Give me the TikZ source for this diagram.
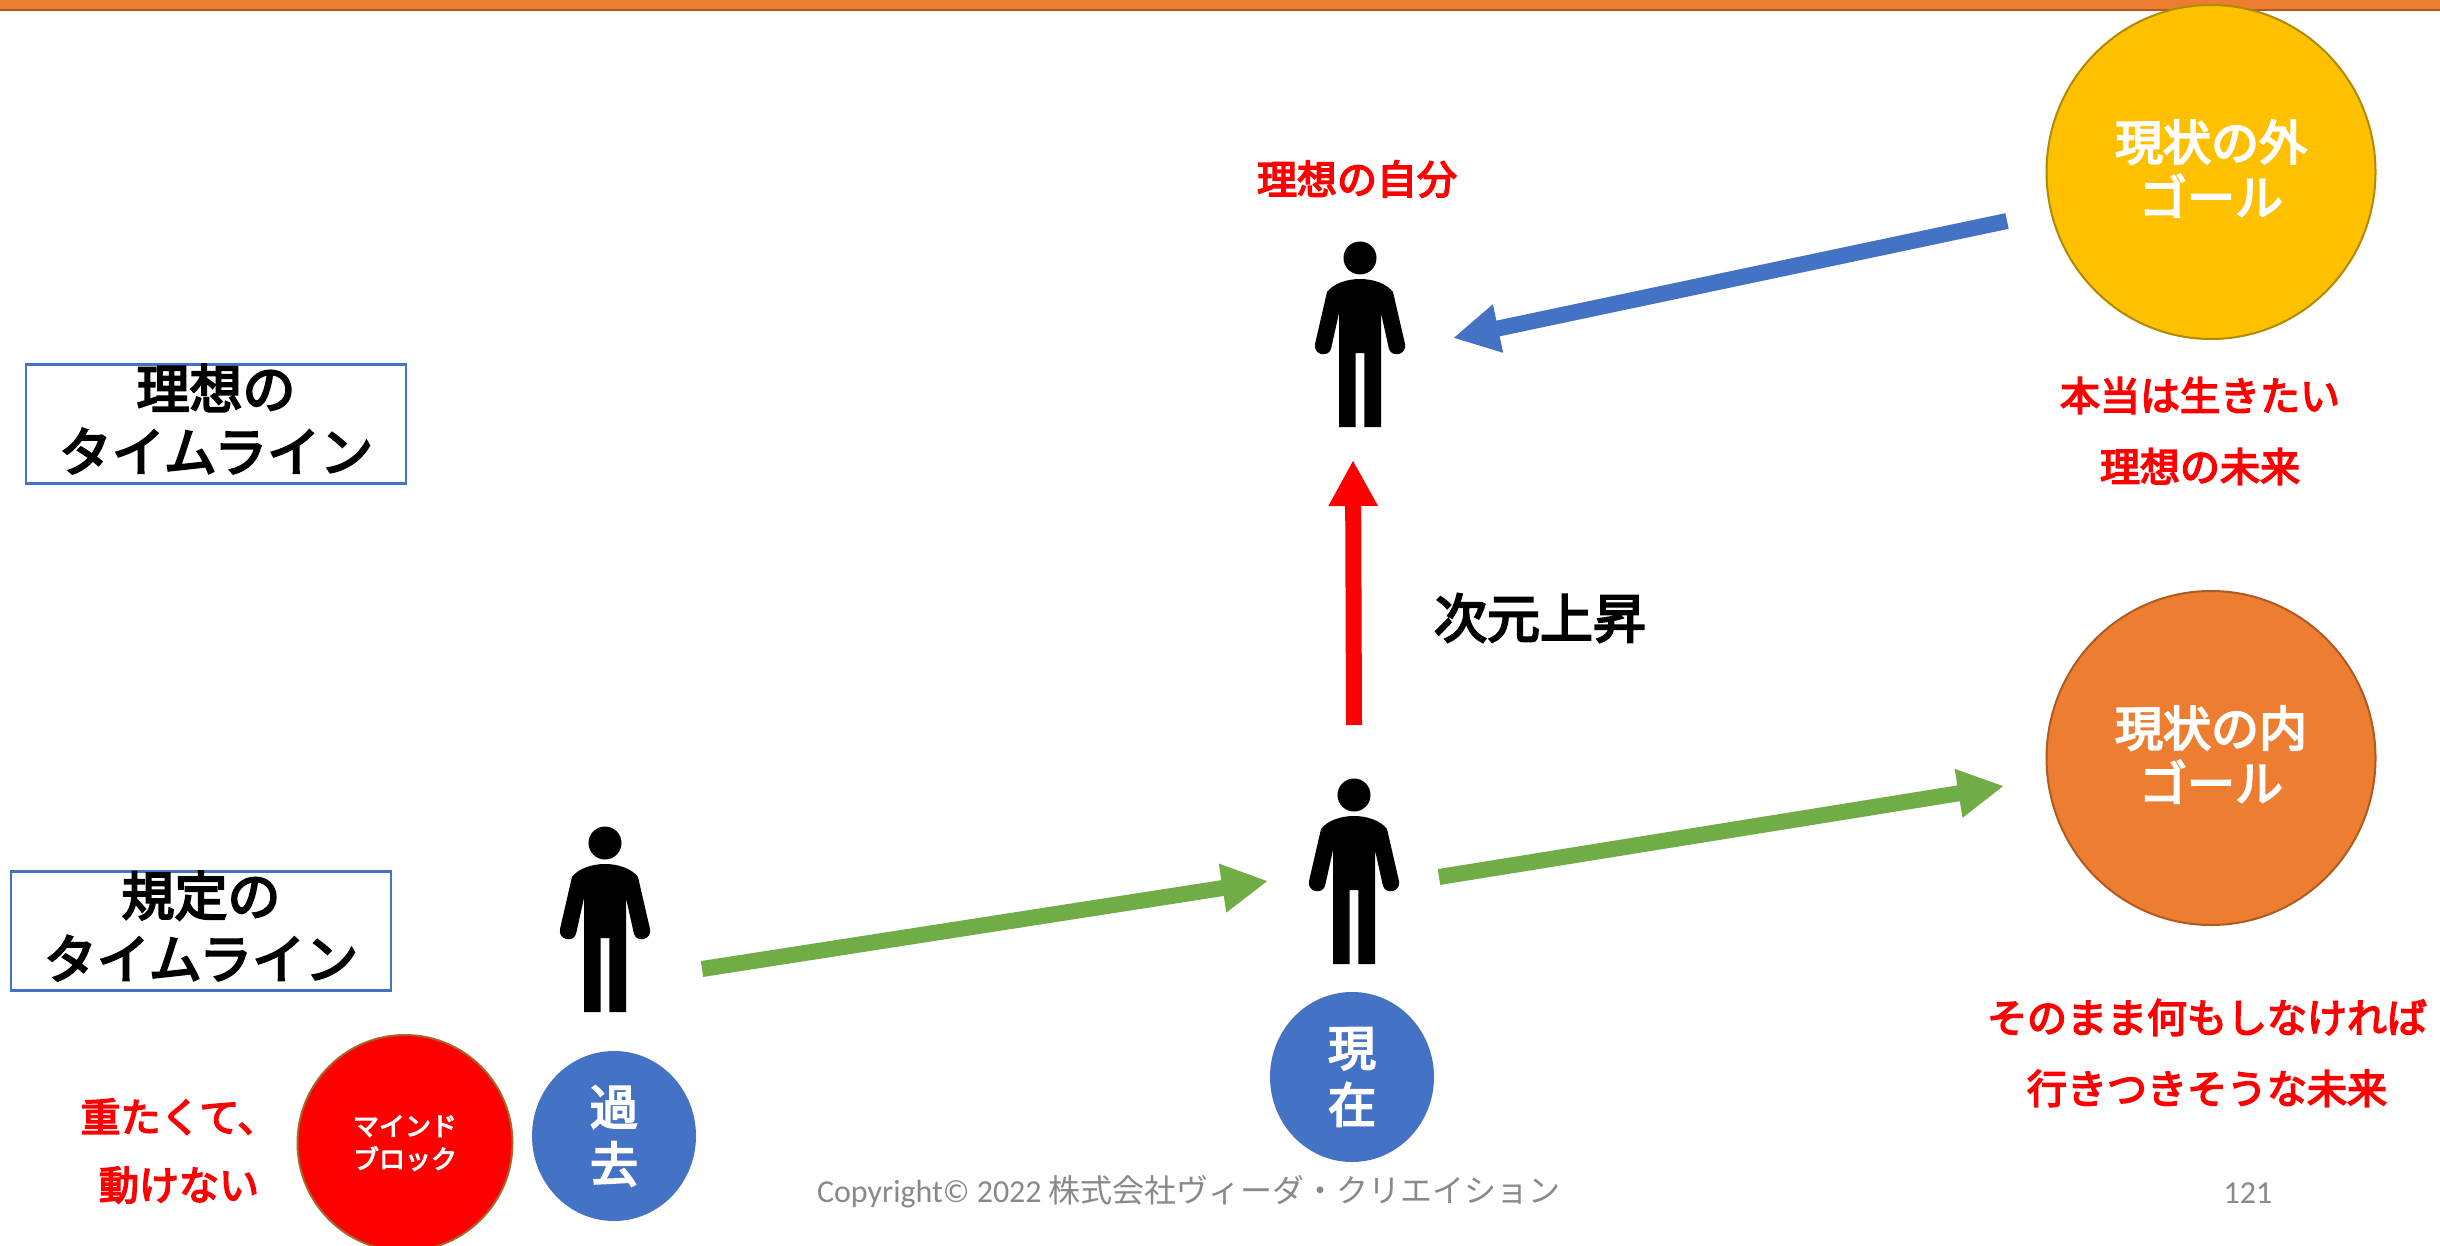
\documentclass[tikz,border=0pt]{standalone}
\usepackage{fontspec}
\usetikzlibrary{arrows.meta,shapes.geometric}
\newfontfamily\jp{Noto Sans CJK JP}
\newfontfamily\jpm{Noto Sans CJK JP}[FakeBold=4]
\setmainfont{Carlito}
\definecolor{orangeA}{HTML}{ED7D31}
\definecolor{orangeD}{HTML}{AE5A21}
\definecolor{goldA}{HTML}{FFC000}
\definecolor{goldD}{HTML}{B08A00}
\definecolor{blueA}{HTML}{4472C4}
\definecolor{greenA}{HTML}{70AD47}
\definecolor{copygray}{HTML}{898989}
\definecolor{redD}{HTML}{A8652A}
\tikzset{
  person/.pic={
    \fill[black] (0,0) circle[x radius=16.5,y radius=16.5];
    \fill[black] (0,21) .. controls (14,21) and (27,26) .. (33,34) -- (45,86)
      .. controls (47,97) and (32,100) .. (29,91) -- (21,55) -- (21,169) -- (4.3,169) -- (4.3,95)
      -- (-4.3,95) -- (-4.3,169) -- (-21,169) -- (-21,55) -- (-29,91)
      .. controls (-32,100) and (-47,97) .. (-45,86) -- (-33,34)
      .. controls (-27,26) and (-14,21) .. (0,21) -- cycle;
  },
  goal/.style={ellipse,draw,line width=1pt,minimum width=164.5pt,minimum height=167pt,inner sep=0pt},
  goaltext/.style={text=white,align=center,inner sep=0pt,font=\jpm\fontsize{24}{27.5}\selectfont},
  era/.style={ellipse,fill=blueA,minimum width=82pt,minimum height=85pt,inner sep=0pt,text=white,align=center,font=\jpm\fontsize{24}{28.5}\selectfont},
  block/.style={ellipse,fill=red,draw=redD,line width=1pt,minimum width=107.5pt,minimum height=108pt,inner sep=0pt,text=white,align=center,font=\jpm\fontsize{13}{16.5}\selectfont},
  linebox/.style={rectangle,draw=blueA,line width=1.1pt,inner sep=0pt,minimum width=190pt,minimum height=59.5pt},
  title/.style={text=black,align=center,inner sep=0pt,font=\jpm\fontsize{26.5}{31.5}\selectfont},
  redlabel/.style={text=red,align=center,inner sep=0pt,font=\jpm\fontsize{20}{35.5}\selectfont},
  arrowline/.style={line width=8pt,-{Triangle[length=23pt,width=23pt]}},
  foot/.style={text=copygray,inner sep=0pt,font=\fontsize{16}{18}\selectfont}
}
\begin{document}
\begin{tikzpicture}[x=0.5pt,y=-0.5pt]
\useasboundingbox (0,0) rectangle (2440,1246);
\fill[white] (0,0) rectangle (2440,1246);
\fill[orangeA] (0,0) rectangle (2440,9);
\fill[orangeD] (0,9) rectangle (2440,11);

% goals
\node[goal,fill=goldA,draw=goldD] (outer) at (2211,172) {};
\node[goaltext] (outertext) at (2211,168.5) {現状の外\\ゴール};
\node[goal,fill=orangeA,draw=orangeD] (inner) at (2211,758) {};
\node[goaltext] (innertext) at (2211,754.5) {現状の内\\ゴール};

% eras and block
\node[era] (now) at (1352,1077) {現\\在};
\node[era] (past) at (614,1136) {過\\去};
\node[block] (mind) at (405,1143) {マインド\\ブロック};

% people
\pic at (1360,258) {person};
\pic at (1354,795) {person};
\pic at (605,843) {person};

% timeline boxes
\node[linebox] (boxideal) at (216,424) {};
\node[title] (tideal) at (216,419) {理想の\\タイムライン};
\node[linebox] (boxrule) at (201,931) {};
\node[title] (trule) at (201,926) {規定の\\タイムライン};

% labels
\node[redlabel] (selfideal) at (1357,179) {理想の自分};
\node[redlabel] (futureideal) at (2200,431) {本当は生きたい\\理想の未来};
\node[redlabel] (futurerule) at (2207,1053) {そのまま何もしなければ\\行きつきそうな未来};
\node[redlabel,font=\jpm\fontsize{20}{34}\selectfont] (heavy) at (179,1151) {重たくて、\\動けない};
\node[text=black,inner sep=0pt,font=\jpm\fontsize{26.5}{30}\selectfont] (rise) at (1540,618) {次元上昇};

% footer
\node[foot] (copy) at (1189,1192) {Copyright© 2022 {\jp 株式会社ヴィーダ・クリエイション}};
\node[foot] (page) at (2248,1193) {121};

% arrows
\coordinate (bs) at (2007,221); \coordinate (bt) at (1453,338);
\coordinate (rs) at (1354,725); \coordinate (rt) at (1353,460);
\coordinate (g1s) at (702,969); \coordinate (g1t) at (1268,881);
\coordinate (g2s) at (1439,877); \coordinate (g2t) at (2004,786);
\draw[arrowline,draw=blueA,fill=blueA] (bs) -- (bt);
\draw[arrowline,draw=red,fill=red] (rs) -- (rt);
\draw[arrowline,draw=greenA,fill=greenA] (g1s) -- (g1t);
\draw[arrowline,draw=greenA,fill=greenA] (g2s) -- (g2t);
\end{tikzpicture}
\end{document}
